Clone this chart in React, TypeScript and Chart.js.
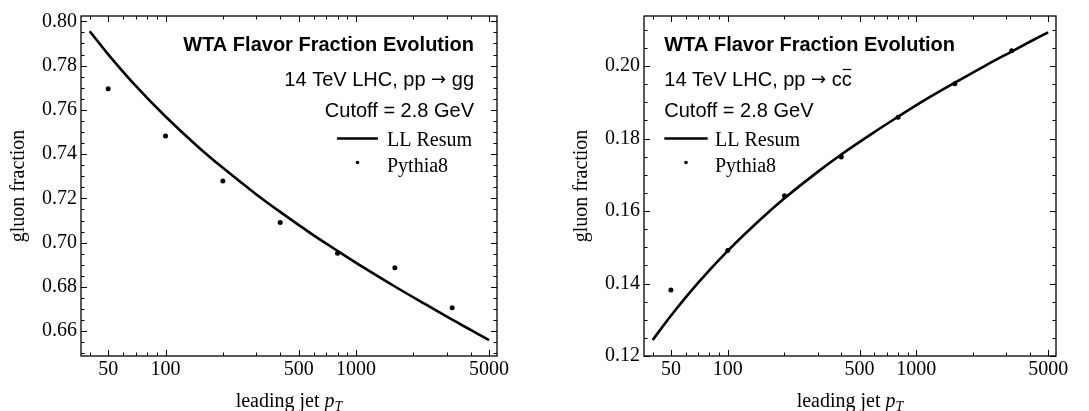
import React, { useEffect, useRef } from 'react';
import { Chart, registerables } from 'chart.js';

Chart.register(...registerables);

// ---------- data ----------
const PT_POINTS = [50, 100, 200, 400, 800, 1600, 3200];
const GG_PYTHIA = [0.7695, 0.7482, 0.7279, 0.7091, 0.6952, 0.6887, 0.6706];
const CC_PYTHIA = [0.1382, 0.1491, 0.1642, 0.1749, 0.1859, 0.1951, 0.2042];

const PT_CURVE = [40, 50, 70, 100, 150, 200, 300, 400, 600, 800, 1100, 1600, 2300, 3200, 4000, 5000];
const GG_RESUM = [0.7955, 0.7851, 0.7707, 0.7570, 0.7429, 0.7338, 0.7218, 0.7139, 0.7033, 0.6963, 0.6887, 0.6802, 0.6723, 0.6652, 0.6606, 0.6560];
const CC_RESUM = [0.1244, 0.1311, 0.1403, 0.1490, 0.1578, 0.1635, 0.1708, 0.1756, 0.1818, 0.1860, 0.1905, 0.1954, 0.2000, 0.2040, 0.2067, 0.2093];

const X_TICKS = [50, 100, 500, 1000, 5000];
const X_MINOR_TICKS = [40, 60, 70, 80, 90, 200, 300, 400, 600, 700, 800, 900, 2000, 3000, 4000];
const GG_Y_TICKS = [0.66, 0.68, 0.70, 0.72, 0.74, 0.76, 0.78, 0.80];
const CC_Y_TICKS = [0.12, 0.14, 0.16, 0.18, 0.20];
const Y_MINOR_STEP = 0.005;

const TITLE = 'WTA Flavor Fraction Evolution';
const SUB_GG = '14 TeV LHC, pp \u2192 gg';
const SUB_CC = '14 TeV LHC, pp \u2192 cc';
const ARROW = '\u2192';
const CUTOFF = 'Cutoff = 2.8 GeV';
const LEGEND_LABELS = ['LL Resum', 'Pythia8'];
const Y_TITLE = 'gluon fraction';
const X_TITLE = 'leading jet ';
const X_TITLE_VAR = 'p';
const X_TITLE_SUB = 'T';

const X_MIN = 36;
const X_MAX = 5500;

const SANS = '"Liberation Sans", Arial, Helvetica, sans-serif';
const SERIF = '"Liberation Serif", "Times New Roman", Times, serif';
const ARROW_FONT = '"DejaVu Sans", sans-serif';

type PanelCfg = {
  left: number;
  width: number;
  padRight: number;
  yAxisWidth: number;
  yMin: number;
  yMax: number;
  yTicks: number[];
  curve: number[];
  points: number[];
  sub: string;
  overline: boolean;
  textAlign: 'left' | 'right';
  textX: number;
  legendLineX0: number;
  legendLineX1: number;
  legendTextX: number;
  yTitleX: number;
};

const PANELS: PanelCfg[] = [
  {
    left: 0,
    width: 540,
    padRight: 43,
    yAxisWidth: 81,
    yMin: 0.6488,
    yMax: 0.8024,
    yTicks: GG_Y_TICKS,
    curve: GG_RESUM,
    points: GG_PYTHIA,
    sub: SUB_GG,
    overline: false,
    textAlign: 'right',
    textX: 474,
    legendLineX0: 337,
    legendLineX1: 378,
    legendTextX: 387,
    yTitleX: 19,
  },
  {
    left: 545,
    width: 544,
    padRight: 33,
    yAxisWidth: 99,
    yMin: 0.12,
    yMax: 0.2138,
    yTicks: CC_Y_TICKS,
    curve: CC_RESUM,
    points: CC_PYTHIA,
    sub: SUB_CC,
    overline: true,
    textAlign: 'left',
    textX: 119.3,
    legendLineX0: 119.3,
    legendLineX1: 162.7,
    legendTextX: 170,
    yTitleX: 36.7,
  },
];

function makeDecorPlugin(cfg: PanelCfg) {
  return {
    id: 'decor',
    afterDraw(chart: any) {
      const ctx: CanvasRenderingContext2D = chart.ctx;
      const a = chart.chartArea;
      const xs = chart.scales.x;
      const ys = chart.scales.y;
      ctx.save();
      ctx.strokeStyle = '#000';
      ctx.fillStyle = '#000';

      // frame
      ctx.lineWidth = 1.3;
      ctx.strokeRect(a.left, a.top, a.right - a.left, a.bottom - a.top);

      // ticks (inward on all sides)
      ctx.lineWidth = 1;
      const major = 6;
      const minor = 3.5;
      const xTick = (v: number, len: number) => {
        const px = Math.round(xs.getPixelForValue(v)) + 0.5;
        ctx.beginPath();
        ctx.moveTo(px, a.bottom);
        ctx.lineTo(px, a.bottom - len);
        ctx.moveTo(px, a.top);
        ctx.lineTo(px, a.top + len);
        ctx.stroke();
      };
      const yTick = (v: number, len: number) => {
        const py = Math.round(ys.getPixelForValue(v)) + 0.5;
        ctx.beginPath();
        ctx.moveTo(a.left, py);
        ctx.lineTo(a.left + len, py);
        ctx.moveTo(a.right, py);
        ctx.lineTo(a.right - len, py);
        ctx.stroke();
      };
      X_TICKS.forEach((v) => xTick(v, major));
      X_MINOR_TICKS.forEach((v) => xTick(v, minor));
      const start = Math.ceil(cfg.yMin / Y_MINOR_STEP - 1e-6);
      const end = Math.floor(cfg.yMax / Y_MINOR_STEP + 1e-6);
      for (let k = start; k <= end; k++) {
        const v = k * Y_MINOR_STEP;
        const isMajor = cfg.yTicks.some((t) => Math.abs(t - v) < 1e-6);
        yTick(v, isMajor ? major : minor);
      }

      // annotation text
      ctx.textBaseline = 'alphabetic';
      ctx.textAlign = cfg.textAlign;
      ctx.font = `bold 20px ${SANS}`;
      ctx.fillText(TITLE, cfg.textX, 50.5);

      // subtitle with a full-size arrow
      const [pre, post] = cfg.sub.split(ARROW);
      const sansF = `20px ${SANS}`;
      const arrowF = `18px ${ARROW_FONT}`;
      ctx.font = sansF;
      const wPre = ctx.measureText(pre).width;
      const wPost = ctx.measureText(post).width;
      ctx.font = arrowF;
      const wArr = ctx.measureText(ARROW).width;
      const wTot = wPre + wArr + wPost;
      let sx = cfg.textAlign === 'left' ? cfg.textX : cfg.textX - wTot;
      const sb = 85.5;
      ctx.textAlign = 'left';
      ctx.font = sansF;
      ctx.fillText(pre, sx, sb);
      sx += wPre;
      ctx.font = arrowF;
      ctx.fillText(ARROW, sx, sb - 0.5);
      sx += wArr;
      ctx.font = sansF;
      ctx.fillText(post, sx, sb);
      sx += wPost;
      if (cfg.overline) {
        const wc = ctx.measureText('c').width;
        ctx.lineWidth = 1.3;
        ctx.beginPath();
        ctx.moveTo(sx - wc + 1, 69.5);
        ctx.lineTo(sx - 0.5, 69.5);
        ctx.stroke();
      }
      ctx.textAlign = cfg.textAlign;
      ctx.fillText(CUTOFF, cfg.textX, 117);

      // legend
      ctx.lineWidth = 2.6;
      ctx.beginPath();
      ctx.moveTo(cfg.legendLineX0, 138.5);
      ctx.lineTo(cfg.legendLineX1, 138.5);
      ctx.stroke();
      ctx.beginPath();
      ctx.arc((cfg.legendLineX0 + cfg.legendLineX1) / 2, 162.5, 1.8, 0, Math.PI * 2);
      ctx.fill();
      ctx.textAlign = 'left';
      ctx.font = `20px ${SERIF}`;
      ctx.fillText(LEGEND_LABELS[0], cfg.legendTextX, 146);
      ctx.fillText(LEGEND_LABELS[1], cfg.legendTextX, 172);

      // y axis title
      ctx.save();
      ctx.translate(cfg.yTitleX, (a.top + a.bottom) / 2);
      ctx.rotate(-Math.PI / 2);
      ctx.textAlign = 'center';
      ctx.textBaseline = 'middle';
      ctx.font = `20px ${SERIF}`;
      ctx.fillText(Y_TITLE, 0, 0);
      ctx.restore();

      // x axis title with italic p_T
      ctx.textAlign = 'left';
      ctx.textBaseline = 'alphabetic';
      ctx.font = `20px ${SERIF}`;
      const w1 = ctx.measureText(X_TITLE).width;
      ctx.font = `italic 20px ${SERIF}`;
      const w2 = ctx.measureText(X_TITLE_VAR).width;
      ctx.font = `italic 14px ${SERIF}`;
      const w3 = ctx.measureText(X_TITLE_SUB).width;
      const total = w1 + w2 + w3;
      const cx = (a.left + a.right) / 2;
      let x0 = cx - total / 2;
      const base = 407;
      ctx.font = `20px ${SERIF}`;
      ctx.fillText(X_TITLE, x0, base);
      x0 += w1;
      ctx.font = `italic 20px ${SERIF}`;
      ctx.fillText(X_TITLE_VAR, x0, base);
      x0 += w2;
      ctx.font = `italic 14px ${SERIF}`;
      ctx.fillText(X_TITLE_SUB, x0, base + 4);
      ctx.restore();
    },
  };
}

function Panel({ cfg }: { cfg: PanelCfg }) {
  const ref = useRef<HTMLCanvasElement>(null);
  useEffect(() => {
    const canvas = ref.current;
    if (!canvas) return;
    const chart = new Chart(canvas, {
      type: 'line',
      data: {
        datasets: [
          {
            type: 'line',
            label: LEGEND_LABELS[0],
            data: PT_CURVE.map((x, i) => ({ x, y: cfg.curve[i] })),
            borderColor: '#000',
            backgroundColor: '#000',
            borderWidth: 2.6,
            pointRadius: 0,
            cubicInterpolationMode: 'monotone',
            fill: false,
          } as any,
          {
            type: 'scatter',
            label: LEGEND_LABELS[1],
            data: PT_POINTS.map((x, i) => ({ x, y: cfg.points[i] })),
            backgroundColor: '#000',
            borderColor: '#000',
            borderWidth: 0,
            pointRadius: 2.5,
            showLine: false,
          } as any,
        ],
      },
      options: {
        responsive: false,
        animation: false,
        devicePixelRatio: 1,
        layout: { padding: { left: 0, right: cfg.padRight, top: 14, bottom: 0 } },
        plugins: {
          legend: { display: false },
          tooltip: { enabled: false },
          title: { display: false },
        },
        scales: {
          x: {
            type: 'logarithmic',
            position: 'bottom',
            min: X_MIN,
            max: X_MAX,
            grid: { display: false, drawTicks: false },
            border: { display: false },
            afterBuildTicks: (s: any) => {
              s.ticks = X_TICKS.map((v) => ({ value: v }));
            },
            afterFit: (s: any) => {
              s.height = 55;
            },
            ticks: {
              autoSkip: false,
              maxRotation: 0,
              minRotation: 0,
              padding: 2,
              color: '#000',
              font: { family: SERIF, size: 20 },
              callback: (v: any) => String(v),
            },
          },
          y: {
            type: 'linear',
            position: 'left',
            min: cfg.yMin,
            max: cfg.yMax,
            grid: { display: false, drawTicks: false },
            border: { display: false },
            afterBuildTicks: (s: any) => {
              s.ticks = cfg.yTicks.map((v) => ({ value: v }));
            },
            afterFit: (s: any) => {
              s.width = cfg.yAxisWidth;
            },
            ticks: {
              padding: 4,
              color: '#000',
              font: { family: SERIF, size: 20 },
              callback: (v: any) => Number(v).toFixed(2),
            },
          },
        },
      } as any,
      plugins: [makeDecorPlugin(cfg)],
    });
    return () => chart.destroy();
  }, [cfg]);
  return (
    <canvas
      ref={ref}
      width={cfg.width}
      height={411}
      style={{ position: 'absolute', left: cfg.left, top: 0, width: cfg.width, height: 411, display: 'block' }}
    />
  );
}

export default function App() {
  return (
    <div style={{ position: 'absolute', left: 0, top: 0, width: 1089, height: 411, background: '#fff', overflow: 'hidden' }}>
      {PANELS.map((p, i) => (
        <Panel key={i} cfg={p} />
      ))}
    </div>
  );
}
